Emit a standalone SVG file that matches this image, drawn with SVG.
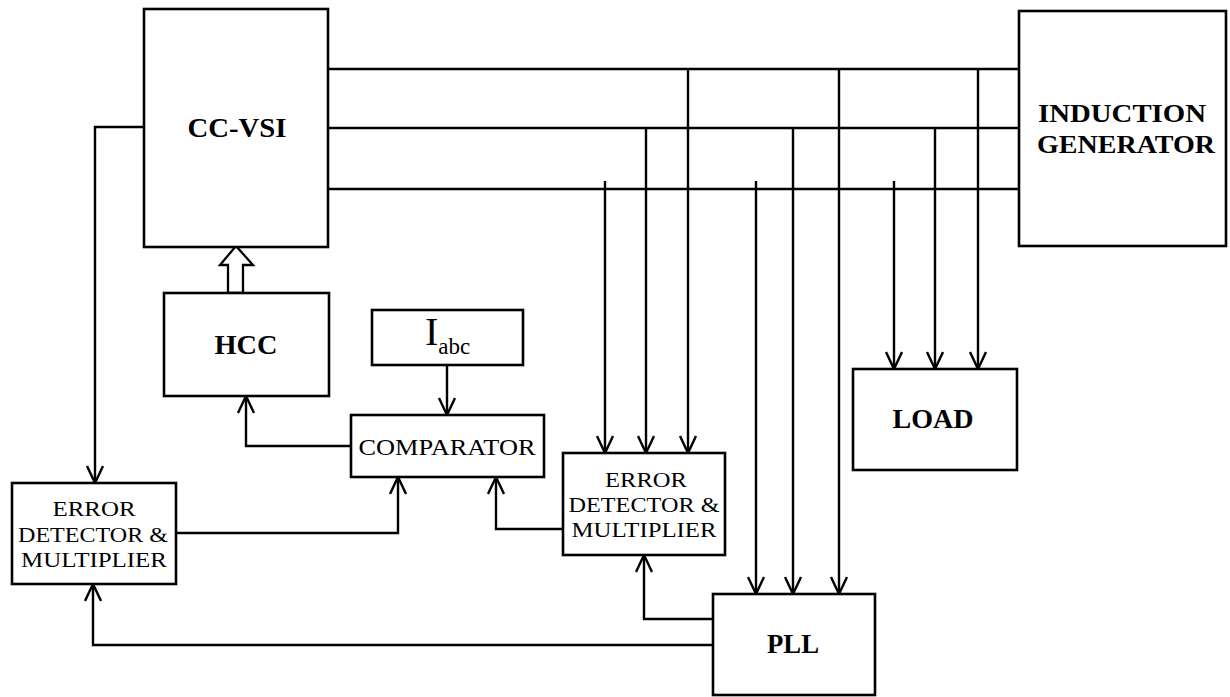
<svg xmlns="http://www.w3.org/2000/svg" width="1230" height="697" viewBox="0 0 1230 697">
<style>
.box{fill:#fff;stroke:#000;stroke-width:2.6}
.ln{fill:none;stroke:#000;stroke-width:2.4}
.arr{fill:none;stroke:#000;stroke-width:2.4;marker-end:url(#v)}
.b{font-family:"Liberation Serif","Times New Roman",serif;font-weight:bold;fill:#000;text-anchor:middle}
.r{font-family:"Liberation Serif","Times New Roman",serif;fill:#000;text-anchor:middle}
</style>
<defs>
<marker id="v" markerUnits="userSpaceOnUse" viewBox="-1 -1 20 18" refX="17" refY="8" markerWidth="20" markerHeight="18" orient="auto">
<path d="M0,0 L17,8 L0,16" fill="none" stroke="#000" stroke-width="2.4"/>
</marker>
</defs>
<rect width="1230" height="697" fill="#fff"/>
<g id="connectors">
<path class="ln" d="M328,69 H1019 M328,128 H1019 M328,189 H1019"/>
<path class="arr" d="M688,69 V453"/>
<path class="arr" d="M646,128 V453"/>
<path class="arr" d="M605,181 V453"/>
<path class="arr" d="M839,69 V594"/>
<path class="arr" d="M793,128 V594"/>
<path class="arr" d="M756,181 V594"/>
<path class="arr" d="M978,69 V369"/>
<path class="arr" d="M935,128 V369"/>
<path class="arr" d="M894,181 V369"/>
<path class="arr" d="M144,127 H95 V483"/>
<path class="arr" d="M447,365 V415"/>
<path class="arr" d="M351,446 H246 V396"/>
<path class="arr" d="M176,533 H398 V477"/>
<path class="arr" d="M563,529 H496 V477"/>
<path class="arr" d="M713,619 H644 V555"/>
<path class="arr" d="M713,645 H93 V584"/>
<polygon points="236,246 253,265 243,265 243,293 228,293 228,265 220,265" fill="#fff" stroke="#000" stroke-width="2.3" stroke-linejoin="miter"/>
</g>
<g id="ccvsi">
<rect class="box" x="144" y="9" width="184" height="238"/>
<text class="b" x="237" y="137" font-size="27" textLength="99" lengthAdjust="spacingAndGlyphs">CC-VSI</text>
</g>
<g id="induction-generator">
<rect class="box" x="1019" y="11" width="207" height="235"/>
<text class="b" x="1122" y="122" font-size="26" textLength="168" lengthAdjust="spacingAndGlyphs">INDUCTION</text>
<text class="b" x="1126" y="153" font-size="26" textLength="178" lengthAdjust="spacingAndGlyphs">GENERATOR</text>
</g>
<g id="hcc">
<rect class="box" x="164" y="293" width="165" height="103"/>
<text class="b" x="246" y="354" font-size="27" textLength="63" lengthAdjust="spacingAndGlyphs">HCC</text>
</g>
<g id="iabc">
<rect class="box" x="372" y="310" width="151" height="55"/>
<text x="425" y="345" font-family="Liberation Serif,Times New Roman,serif" font-size="40" fill="#000">I<tspan font-size="23" dy="9">abc</tspan></text>
</g>
<g id="comparator">
<rect class="box" x="351" y="415" width="193" height="62"/>
<text class="r" x="447" y="455" font-size="23" textLength="177" lengthAdjust="spacingAndGlyphs">COMPARATOR</text>
</g>
<g id="error-detector-left">
<rect class="box" x="12" y="483" width="164" height="101"/>
<text class="r" x="94" y="516" font-size="21" textLength="83" lengthAdjust="spacingAndGlyphs">ERROR</text>
<text class="r" x="93" y="542" font-size="21" textLength="150" lengthAdjust="spacingAndGlyphs">DETECTOR &amp;</text>
<text class="r" x="94" y="567" font-size="21" textLength="146" lengthAdjust="spacingAndGlyphs">MULTIPLIER</text>
</g>
<g id="error-detector-right">
<rect class="box" x="563" y="453" width="162" height="102"/>
<text class="r" x="646" y="487" font-size="21" textLength="82" lengthAdjust="spacingAndGlyphs">ERROR</text>
<text class="r" x="644" y="512" font-size="21" textLength="151" lengthAdjust="spacingAndGlyphs">DETECTOR &amp;</text>
<text class="r" x="644" y="537" font-size="21" textLength="145" lengthAdjust="spacingAndGlyphs">MULTIPLIER</text>
</g>
<g id="load">
<rect class="box" x="853" y="369" width="164" height="101"/>
<text class="b" x="933" y="428" font-size="27" textLength="81" lengthAdjust="spacingAndGlyphs">LOAD</text>
</g>
<g id="pll">
<rect class="box" x="713" y="594" width="162" height="101"/>
<text class="b" x="793" y="653" font-size="27" textLength="52" lengthAdjust="spacingAndGlyphs">PLL</text>
</g>
</svg>
